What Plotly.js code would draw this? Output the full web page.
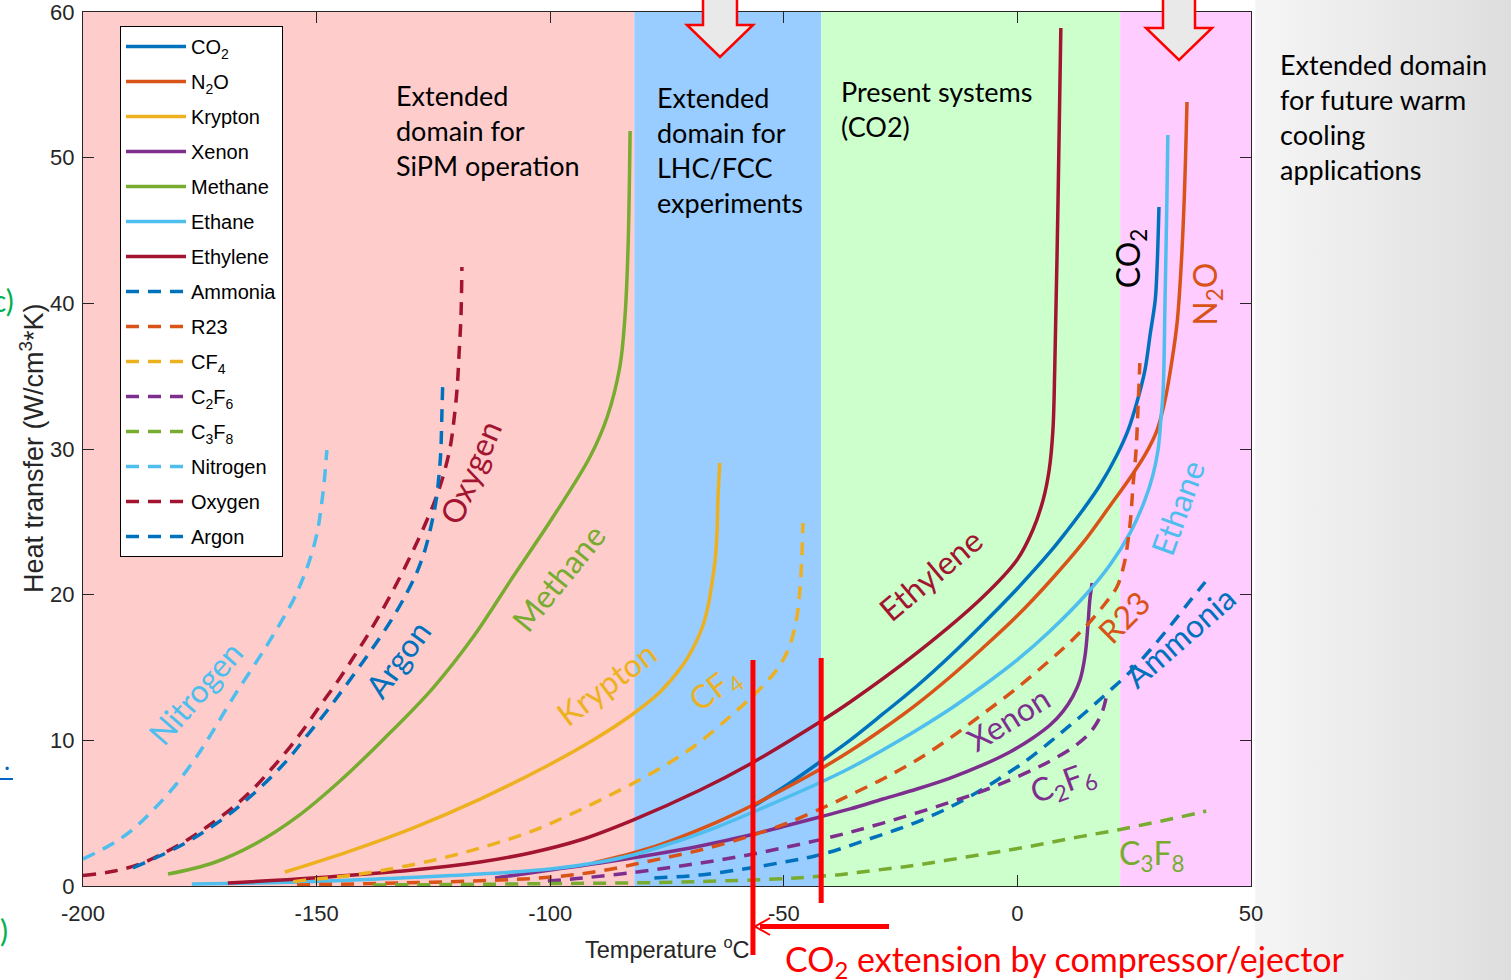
<!DOCTYPE html>
<html>
<head>
<meta charset="utf-8">
<script src="https://cdn.plot.ly/plotly-3.0.1.min.js"></script>
<style>
  html, body { margin: 0; padding: 0; }
  body {
    width: 1511px; height: 980px; overflow: hidden;
    background: linear-gradient(to right, #ffffff 0px, #ffffff 1254px, #f5f5f5 1256px, #dedede 1511px);
  }
  #chart { width: 1511px; height: 980px; }
</style>
</head>
<body>
<div id="chart"></div>
<script>
// Heat transfer capacity of candidate refrigerants versus temperature
// (temperature in °C, heat transfer in W/cm³·K)

const tCO2 = [-56.6, -48.7, -42.3, -35.8, -28.8, -21.5, -14.4, -7.4, -0.1, 7.0, 10.6, 14.0, 17.7, 21.3, 23.7, 25.6, 27.3, 28.4, 29.5, 29.9, 30.3];
const hCO2 = [5.45, 7.07, 8.51, 10.02, 11.81, 13.73, 15.79, 17.99, 20.39, 22.93, 24.37, 25.81, 27.53, 29.59, 31.3, 33.23, 35.42, 37.83, 40.23, 42.49, 46.61];

const tN2O = [-90.8, -78.6, -64.3, -56.6, -42.9, -35.8, -28.8, -21.5, -14.4, -7.4, -0.1, 7.0, 14.0, 19.8, 24.1, 27.3, 29.9, 31.6, 33.1, 34.2, 35.0, 35.7, 36.3];
const hN2O = [1.58, 2.61, 4.39, 5.56, 7.89, 9.27, 10.78, 12.49, 14.35, 16.34, 18.53, 20.94, 23.55, 26.09, 28.01, 29.59, 31.3, 33.36, 36.11, 38.72, 42.29, 47.09, 53.82];

const tKrypton = [-156.8, -143.5, -129.4, -115.0, -100.7, -90.8, -82.3, -76.5, -71.6, -69.2, -67.5, -66.2, -65.4, -64.7, -64.3, -64.1, -63.7];
const hKrypton = [0.96, 2.33, 3.98, 5.97, 8.24, 10.02, 11.81, 13.32, 15.17, 16.48, 17.71, 19.22, 20.73, 22.38, 24.23, 26.5, 29.04];

const tXenon = [-111.8, -100.0, -89.3, -78.6, -67.9, -57.2, -49.7, -42.3, -35.8, -28.8, -21.5, -14.4, -7.4, -1.6, 3.3, 7.0, 9.8, 11.9, 13.4, 14.5, 15.1, 15.5, 16.0];
const hXenon = [0.55, 1.1, 1.58, 2.13, 2.75, 3.5, 4.12, 4.74, 5.29, 5.97, 6.66, 7.41, 8.31, 9.2, 10.16, 11.05, 12.01, 13.04, 14.14, 15.86, 17.92, 19.63, 20.8];

const tMethane = [-181.8, -172.2, -162.8, -154.2, -145.0, -135.4, -125.1, -116.5, -108.0, -99.4, -91.5, -87.8, -85.1, -84.0, -83.35, -82.9];
const hMethane = [0.82, 1.58, 2.95, 4.74, 7.21, 10.16, 13.59, 17.09, 21.21, 25.33, 29.45, 32.2, 35.63, 39.06, 43.66, 51.83];

const tEthane = [-176.7, -153.6, -132.1, -115.0, -100.0, -89.3, -82.3, -73.3, -64.3, -53.6, -42.9, -35.8, -28.8, -21.5, -14.4, -7.4, -0.1, 7.0, 14.0, 19.8, 24.1, 27.3, 29.0, 30.1, 30.7, 31.2, 31.6, 32.0, 32.2];
const hEthane = [0.14, 0.27, 0.55, 0.82, 1.17, 1.65, 2.13, 3.02, 4.05, 5.49, 7.0, 8.1, 9.34, 10.71, 12.15, 13.73, 15.51, 17.51, 19.77, 22.04, 24.23, 26.5, 28.21, 29.93, 31.99, 34.05, 40.23, 47.09, 51.55];

const tEthylene = [-169.0, -150.8, -129.4, -115.0, -104.3, -93.6, -82.3, -67.9, -57.2, -42.3, -35.8, -21.5, -7.4, -0.1, 3.3, 5.5, 6.8, 7.6, 8.0, 8.7, 9.3];
const hEthylene = [0.21, 0.55, 1.1, 1.65, 2.27, 3.16, 4.53, 6.59, 8.38, 11.26, 12.63, 16.0, 19.84, 22.38, 24.44, 26.5, 28.56, 31.3, 35.63, 47.09, 58.9];

const tAmmonia = [-77.7, -67.9, -57.2, -48.7, -43.3, -38.0, -33.0, -27.3, -21.5, -14.4, -7.4, -3.7, 2.1, 7.0, 10.6, 14.9, 19.2, 24.1, 28.4, 32.7, 36.9, 40.2];
const hAmmonia = [0.55, 0.76, 1.24, 1.72, 2.06, 2.54, 3.09, 3.71, 4.39, 5.42, 6.66, 7.41, 8.65, 9.89, 10.85, 12.01, 13.25, 14.69, 16.2, 17.85, 19.56, 20.87];

const tR23 = [-154.2, -132.1, -110.7, -99.4, -89.3, -78.6, -67.9, -57.2, -48.7, -40.8, -35.8, -28.8, -21.5, -14.4, -7.4, -0.1, 7.0, 11.3, 15.5, 18.7, 21.3, 22.8, 23.7, 24.3, 24.7, 25.4, 25.8, 26.2];
const hR23 = [0.07, 0.21, 0.41, 0.62, 1.03, 1.72, 2.47, 3.43, 4.39, 5.49, 6.25, 7.35, 8.65, 10.16, 11.81, 13.59, 15.51, 16.75, 18.12, 19.36, 20.53, 22.04, 23.75, 25.47, 27.32, 29.93, 32.68, 35.9];

const tCF4 = [-155.0, -152.1, -140.7, -125.7, -115.0, -104.3, -97.3, -89.3, -78.6, -69.4, -60.9, -54.5, -50.8, -48.7, -47.2, -46.5, -46.1, -45.9];
const hCF4 = [0.3, 0.41, 0.82, 1.72, 2.61, 3.71, 4.67, 5.9, 7.69, 9.54, 11.81, 13.73, 15.17, 16.54, 18.47, 20.53, 22.86, 24.92];

const tC2F6 = [-100.5, -93.0, -81.4, -70.7, -60.0, -49.3, -39.0, -28.8, -17.6, -6.9, 2.3, 7.4, 12.3, 15.1, 17.0, 18.3, 19.2];
const hC2F6 = [0.34, 0.55, 0.96, 1.44, 1.99, 2.68, 3.43, 4.32, 5.42, 6.59, 7.83, 8.65, 9.61, 10.37, 11.19, 12.08, 13.25];

const tC3F8 = [-137.9, -121.4, -98.5, -76.5, -60.0, -49.3, -44.4, -38.6, -34.3, -27.3, -21.5, -15.5, -6.3, -0.5, 5.3, 10.8, 16.6, 22.0, 27.7, 33.3, 38.7, 40.4];
const hC3F8 = [0.07, 0.1, 0.17, 0.24, 0.38, 0.51, 0.62, 0.76, 0.93, 1.2, 1.44, 1.75, 2.23, 2.54, 2.88, 3.23, 3.57, 3.88, 4.26, 4.63, 5.01, 5.15];

const tNitrogen = [-200.0, -193.8, -189.5, -185.2, -180.7, -176.5, -173.5, -167.9, -160.6, -155.1, -152.9, -151.2, -149.9, -149.1, -148.4, -147.8];
const hNitrogen = [1.85, 2.88, 3.84, 5.15, 6.73, 8.51, 9.95, 12.91, 16.54, 19.56, 21.14, 22.65, 24.23, 25.81, 27.67, 29.93];

const tOxygen = [-200.0, -193.2, -187.8, -183.1, -177.7, -173.2, -168.1, -163.8, -159.5, -155.7, -152.9, -149.3, -145.6, -142.2, -139.2, -135.8, -132.8, -130.0, -127.4, -124.7, -122.9, -121.4, -120.6, -119.9, -119.5, -119.1, -118.9];
const hOxygen = [0.72, 1.03, 1.51, 2.2, 3.16, 4.12, 5.35, 6.59, 8.1, 9.54, 10.71, 12.36, 14.0, 15.65, 17.16, 19.02, 20.8, 22.59, 24.37, 26.43, 28.15, 30.14, 31.99, 34.26, 36.59, 39.06, 42.49];

const tArgon = [-189.3, -183.1, -177.7, -173.2, -168.1, -163.8, -159.5, -155.7, -152.1, -147.8, -144.3, -140.1, -137.1, -133.6, -130.7, -128.5, -126.8, -125.5, -124.4, -123.8, -123.4, -123.2, -123.0];
const hArgon = [1.24, 2.13, 3.02, 3.91, 5.08, 6.25, 7.55, 8.86, 10.3, 12.01, 13.52, 15.38, 16.75, 18.47, 20.11, 21.56, 23.07, 24.71, 26.5, 28.21, 29.93, 32.2, 34.53];

// Operating domains along the temperature axis
const domainEdges = [-200, -82, -42, 22, 50];
const domainColors = ['#FFCCCC', '#99CCFF', '#CCFFCC', '#FFCCFF'];

// CO2 limits: triple point and present operating limit
const co2Triple = -56.6;
const co2Present = -42;

// Axis ticks
const xTickVals = [-200, -150, -100, -50, 0, 50];
const xTickText = ['-200', '-150', '-100', '-50', '0', '50'];
const yTickVals = [0, 10, 20, 30, 40, 50, 60];

const C = {
  blue: '#0072BD', orange: '#D95319', yellow: '#EDB120', purple: '#7E2F8E',
  green: '#77AC30', cyan: '#4DBEEE', maroon: '#A2142F'
};

const fluids = [
  {name: 'CO<sub>2</sub>', t: tCO2, h: hCO2, color: C.blue, dash: 'solid'},
  {name: 'N<sub>2</sub>O', t: tN2O, h: hN2O, color: C.orange, dash: 'solid'},
  {name: 'Krypton', t: tKrypton, h: hKrypton, color: C.yellow, dash: 'solid'},
  {name: 'Xenon', t: tXenon, h: hXenon, color: C.purple, dash: 'solid'},
  {name: 'Methane', t: tMethane, h: hMethane, color: C.green, dash: 'solid'},
  {name: 'Ethane', t: tEthane, h: hEthane, color: C.cyan, dash: 'solid'},
  {name: 'Ethylene', t: tEthylene, h: hEthylene, color: C.maroon, dash: 'solid'},
  {name: 'Ammonia', t: tAmmonia, h: hAmmonia, color: C.blue, dash: 'dash'},
  {name: 'R23', t: tR23, h: hR23, color: C.orange, dash: 'dash'},
  {name: 'CF<sub>4</sub>', t: tCF4, h: hCF4, color: C.yellow, dash: 'dash'},
  {name: 'C<sub>2</sub>F<sub>6</sub>', t: tC2F6, h: hC2F6, color: C.purple, dash: 'dash'},
  {name: 'C<sub>3</sub>F<sub>8</sub>', t: tC3F8, h: hC3F8, color: C.green, dash: 'dash'},
  {name: 'Nitrogen', t: tNitrogen, h: hNitrogen, color: C.cyan, dash: 'dash'},
  {name: 'Oxygen', t: tOxygen, h: hOxygen, color: C.maroon, dash: 'dash'},
  {name: 'Argon', t: tArgon, h: hArgon, color: C.blue, dash: 'dash'}
];

// one legend group per fluid so the legend rows get an even gap
const traces = fluids.map((f, i) => ({
  type: 'scatter', mode: 'lines', name: f.name, x: f.t, y: f.h,
  legendgroup: 'g' + i,
  line: {color: f.color, width: 3.5, dash: f.dash === 'dash' ? '13px,9px' : 'solid', shape: 'spline', smoothing: 1.0},
  hoverinfo: 'x+y+name'
}));

// geometry helpers for paper-referenced decorations
const L = 83, R = 1251, T = 12, B = 886;
const px = v => (v - L) / (R - L);
const py = v => (B - v) / (B - T);

const shapes = [];
for (let i = 0; i < domainColors.length; i++) {
  shapes.push({type: 'rect', xref: 'x', yref: 'y', layer: 'below',
    x0: domainEdges[i], x1: domainEdges[i + 1], y0: 0, y1: 60,
    fillcolor: domainColors[i], line: {width: 0}});
}

// hollow arrows pointing down onto the two target domains
function downArrow(cx, top, baseY, tipY, shaftHalf, headHalf) {
  const p = [[cx - shaftHalf, top], [cx + shaftHalf, top], [cx + shaftHalf, baseY], [cx + headHalf, baseY],
             [cx, tipY], [cx - headHalf, baseY], [cx - shaftHalf, baseY]];
  return 'M' + p.map(q => px(q[0]) + ',' + py(q[1])).join(' L') + ' Z';
}
shapes.push({type: 'path', xref: 'paper', yref: 'paper', path: downArrow(720, -6, 25, 57, 17, 33),
  fillcolor: '#E9E9E9', line: {color: '#FF0000', width: 2.5}});
shapes.push({type: 'path', xref: 'paper', yref: 'paper', path: downArrow(1179, -6, 28, 60, 16, 33),
  fillcolor: '#E9E9E9', line: {color: '#FF0000', width: 2.5}});

// CO2 extension markers
shapes.push({type: 'line', xref: 'x', yref: 'paper', x0: co2Triple, x1: co2Triple, y0: py(660), y1: py(955),
  line: {color: '#FF0000', width: 5}});
shapes.push({type: 'line', xref: 'x', yref: 'paper', x0: co2Present, x1: co2Present, y0: py(658), y1: py(903),
  line: {color: '#FF0000', width: 5}});
shapes.push({type: 'line', xref: 'paper', yref: 'paper', x0: px(889), x1: px(760), y0: py(926.5), y1: py(926.5),
  line: {color: '#FF0000', width: 5}});
shapes.push({type: 'path', xref: 'paper', yref: 'paper',
  path: 'M' + px(770) + ',' + py(918) + ' L' + px(755) + ',' + py(926.5) + ' L' + px(770) + ',' + py(935),
  line: {color: '#FF0000', width: 2}});
// hyperlink underline fragment at the left edge
shapes.push({type: 'line', xref: 'paper', yref: 'paper', x0: px(-5), x1: px(13), y0: py(779), y1: py(779),
  line: {color: '#0563C1', width: 2}});

const labelFont = (color, size) => ({family: 'Lato, "Noto Sans", sans-serif', size: size || 32, color});
const curveLabel = (text, x, y, angle, color) => ({
  text, x, y, xref: 'x', yref: 'y', showarrow: false, textangle: angle,
  xanchor: 'center', yanchor: 'middle', font: labelFont(color)
});

const annotations = [
  curveLabel('Nitrogen', -176.0, 13.3, -49, C.cyan),
  curveLabel('Argon', -132.6, 15.6, -54, C.blue),
  curveLabel('Oxygen', -117.2, 28.4, -67, C.maroon),
  curveLabel('Methane', -98.3, 21.2, -51, C.green),
  curveLabel('Krypton', -88.1, 13.9, -37, C.yellow),
  curveLabel('CF<sub>4</sub>', -64.7, 13.5, -37, C.yellow),
  curveLabel('Ethylene', -18.7, 21.4, -40, C.maroon),
  curveLabel('Xenon', -2.0, 11.5, -32, C.purple),
  curveLabel('C<sub>2</sub>F<sub>6</sub>', 9.8, 7.1, -20, C.purple),
  curveLabel('C<sub>3</sub>F<sub>8</sub>', 28.8, 2.1, 0, C.green),
  curveLabel('R23', 22.8, 18.5, -45, C.orange),
  curveLabel('Ammonia', 34.8, 17.1, -41, C.blue),
  curveLabel('Ethane', 34.2, 26.0, -70, C.cyan),
  curveLabel('N<sub>2</sub>O', 40.4, 40.6, -90, C.orange),
  curveLabel('CO<sub>2</sub>', 24.1, 43.1, -90, '#000000')
];

const domainText = (text, left, top) => ({
  text, x: px(left), y: py(top), xref: 'paper', yref: 'paper', showarrow: false,
  xanchor: 'left', yanchor: 'top', align: 'left', font: labelFont('#000000', 27)
});
annotations.push(domainText('Extended<br>domain for<br>SiPM operation', 394, 77));
annotations.push(domainText('Extended<br>domain for<br>LHC/FCC<br>experiments', 655, 79));
annotations.push(domainText('Present systems<br>(CO2)', 839, 73));
annotations.push(domainText('Extended domain<br>for future warm<br>cooling<br>applications', 1278, 46));

annotations.push({text: 'CO<sub>2</sub> extension by compressor/ejector', x: px(783), y: py(961),
  xref: 'paper', yref: 'paper', showarrow: false, xanchor: 'left', yanchor: 'middle',
  font: labelFont('#FF0000', 34)});

const axisFont = {family: '"Liberation Sans", Arial, Helvetica, sans-serif', size: 22, color: '#262626'};
annotations.push({text: 'Temperature <sup>o</sup>C', x: px(667), y: py(948), xref: 'paper', yref: 'paper',
  showarrow: false, xanchor: 'center', yanchor: 'middle',
  font: Object.assign({}, axisFont, {size: 23.5})});
annotations.push({text: 'Heat transfer (W/cm<sup>3</sup>*K)', x: px(32), y: py(448), xref: 'paper', yref: 'paper',
  showarrow: false, textangle: -90, xanchor: 'center', yanchor: 'middle',
  font: Object.assign({}, axisFont, {size: 27})});

// slide text fragments cut by the left edge
annotations.push({text: 'c)', x: px(16), y: py(300), xref: 'paper', yref: 'paper', showarrow: false,
  xanchor: 'right', yanchor: 'middle', font: labelFont('#00B050', 30)});
annotations.push({text: ')', x: px(10), y: py(930), xref: 'paper', yref: 'paper', showarrow: false,
  xanchor: 'right', yanchor: 'middle', font: labelFont('#00B050', 30)});
annotations.push({text: '.', x: px(12), y: py(760), xref: 'paper', yref: 'paper', showarrow: false,
  xanchor: 'right', yanchor: 'middle', font: labelFont('#0563C1', 26)});

const axisCommon = {
  showline: true, linecolor: '#262626', linewidth: 1, mirror: 'ticks',
  ticks: 'inside', ticklen: 11, tickcolor: '#262626', tickwidth: 1,
  showgrid: false, zeroline: false, tickfont: axisFont, fixedrange: true,
  ticklabeloverflow: 'allow'
};

const layout = {
  width: 1511, height: 980,
  margin: {l: L, r: 1511 - R, t: T, b: 980 - B, pad: 0},
  paper_bgcolor: 'rgba(0,0,0,0)', plot_bgcolor: '#FFFFFF',
  xaxis: Object.assign({}, axisCommon, {range: [-200, 50], tickmode: 'array',
    tickvals: xTickVals, ticktext: xTickText, ticklabelstandoff: 8}),
  yaxis: Object.assign({}, axisCommon, {range: [0, 60], tickmode: 'array',
    tickvals: yTickVals, ticklabelstandoff: 3}),
  showlegend: true,
  legend: {
    x: px(120), y: py(26), xanchor: 'left', yanchor: 'top',
    bgcolor: '#FFFFFF', bordercolor: '#000000', borderwidth: 1,
    font: {family: '"Liberation Sans", Arial, sans-serif', size: 20, color: '#000000'},
    itemwidth: 60, tracegroupgap: 6
  },
  shapes, annotations
};

// white figure panel behind the axes
document.getElementById('chart').style.background =
  'linear-gradient(to right, #ffffff 0px, #ffffff 1254px, transparent 1255px)';

Plotly.newPlot('chart', traces, layout, {displayModeBar: false});
</script>
</body>
</html>
